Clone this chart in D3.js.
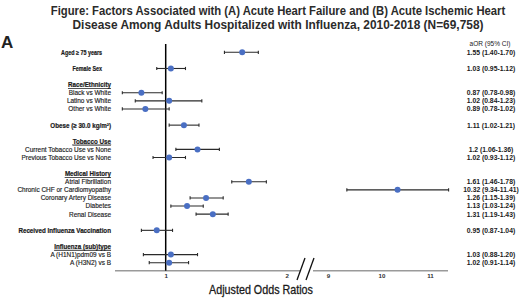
<!DOCTYPE html>
<html><head><meta charset="utf-8">
<script src="https://cdn.jsdelivr.net/npm/d3@7"></script>
<style>body{margin:0;background:#fff} svg{display:block} text{font-family:"Liberation Sans",Arial,Helvetica,sans-serif}</style>
</head><body>
<svg id="chart" width="520" height="298"></svg>
<script>
const titleLines = ["Figure: Factors Associated with (A) Acute Heart Failure and (B) Acute Ischemic Heart",
                    "Disease Among Adults Hospitalized with Influenza, 2010-2018 (N=69,758)"];
const panelLabel = "A";
const axisTitle = "Adjusted Odds Ratios";
const ciHeader = "aOR (95% CI)";
// display order of rows: "" = empty slot, "#" prefix = group header
const rowOrder = ["Aged ≥ 75 years","","Female Sex","","#Race/Ethnicity","Black vs White","Latino vs White","Other vs White","",
  "Obese (≥ 30.0 kg/m²)","","#Tobacco Use","Current Tobacco Use vs None","Previous Tobacco Use vs None","",
  "#Medical History","Atrial Fibrillation","Chronic CHF or Cardiomyopathy","Coronary Artery Disease","Diabetes","Renal Disease","",
  "Received Influenza Vaccination","","#Influenza (sub)type","A (H1N1)pdm09 vs B","A (H3N2) vs B"];
const categories = ["Aged ≥ 75 years","Female Sex","Black vs White","Latino vs White","Other vs White","Obese (≥ 30.0 kg/m²)",
  "Current Tobacco Use vs None","Previous Tobacco Use vs None","Atrial Fibrillation","Chronic CHF or Cardiomyopathy",
  "Coronary Artery Disease","Diabetes","Renal Disease","Received Influenza Vaccination","A (H1N1)pdm09 vs B","A (H3N2) vs B"];
const aOR    = [1.55, 1.03, 0.87, 1.02, 0.89, 1.11, 1.2,  1.02, 1.61, 10.32, 1.26, 1.13, 1.31, 0.95, 1.03, 1.02];
const ciLow  = [1.40, 0.95, 0.78, 0.84, 0.78, 1.02, 1.06, 0.93, 1.46, 9.34,  1.15, 1.03, 1.19, 0.87, 0.88, 0.91];
const ciHigh = [1.70, 1.12, 0.98, 1.23, 1.02, 1.21, 1.36, 1.12, 1.78, 11.41, 1.39, 1.24, 1.43, 1.04, 1.20, 1.14];
const mainItems = ["Aged ≥ 75 years","Female Sex","Obese (≥ 30.0 kg/m²)","Received Influenza Vaccination"];
const smallItems = ["Aged ≥ 75 years","Female Sex"];
const leftTicks = [1, 2];
const rightTicks = [9, 10, 11];

const svg = d3.select("#chart");
const y = d3.scaleLinear().domain([0, 26]).range([52.3, 262.7]);
const xL = d3.scaleLog().domain([1, 2]).range([165.7, 286.7]);
const xR = d3.scaleLog().domain([9, 11]).range([328, 430]);
const xOf = v => v >= 5 ? xR(v) : xL(v);
const axisY = 270.7;

// horizontally condense a text element to a target width around its anchor
function squeeze(t, tx, ty, targetW) {
  const w = t.node().getComputedTextLength();
  const k = targetW / w;
  t.attr("x", 0).attr("y", 0).attr("transform", `translate(${tx},${ty}) scale(${k},1)`);
}

// title
titleLines.forEach((line, i) => {
  const t = svg.append("text").attr("text-anchor","middle").attr("font-size", 12.8)
    .attr("font-weight","bold").attr("fill","#2b2b2b").text(line);
  squeeze(t, 278, 15 + i * 13.5, i === 0 ? 455 : 411);
});

svg.append("text").attr("x", 1).attr("y", 48).attr("font-size", 17).attr("font-weight","bold")
  .attr("fill","#222").text(panelLabel);

// row labels
const rows = rowOrder.map((r, i) => ({r, i})).filter(d => d.r !== "");
rows.forEach(({r, i}) => {
  const isHeader = r.startsWith("#");
  const label = isHeader ? r.slice(1) : r;
  const main = mainItems.includes(label);
  const small = smallItems.includes(label);
  const strong = isHeader || main;
  const t = svg.append("text")
    .attr("dy", "0.35em")
    .attr("text-anchor", "end")
    .attr("font-size", small ? 6.4 : 6.8)
    .attr("font-weight", strong ? "bold" : "normal")
    .attr("fill", "#1a1a1a")
    .attr("stroke", "#1a1a1a").attr("stroke-width", strong ? 0.2 : 0.15)
    .attr("text-decoration", isHeader ? "underline" : null)
    .text(label);
  const w = t.node().getComputedTextLength();
  squeeze(t, small ? 102 : 111, y(i), w * (strong ? (small ? 0.84 : 0.92) : 0.95));
});

// value column
svg.append("text").attr("x", 490).attr("y", y(-1)).attr("dy","0.35em").attr("text-anchor","middle")
  .attr("font-size", 6.5).attr("fill","#1a1a1a").text(ciHeader);
const data = categories.map((c, k) => ({c, or: aOR[k], lo: ciLow[k], hi: ciHigh[k], slot: rowOrder.indexOf(c)}));
svg.selectAll("text.val").data(data).join("text").attr("class","val")
  .attr("x", 491).attr("y", d => y(d.slot)).attr("dy","0.35em").attr("text-anchor","middle")
  .attr("font-size", 6.8).attr("font-weight","bold").attr("fill","#1a1a1a")
  .text(d => `${d.or} (${d.lo.toFixed(2)}-${d.hi.toFixed(2)})`);

// axis line with break
const axisSegs = [[115, 300], [313, 448]];
svg.selectAll("line.ax").data(axisSegs).join("line").attr("class","ax")
  .attr("x1", d => d[0]).attr("x2", d => d[1]).attr("y1", axisY).attr("y2", axisY)
  .attr("stroke","#9a9a9a").attr("stroke-width",1.5);
svg.selectAll("line.brk").data([0, 9]).join("line").attr("class","brk")
  .attr("x1", d => 297 + d).attr("y1", 280).attr("x2", d => 305 + d).attr("y2", 258)
  .attr("stroke","#111").attr("stroke-width",1.3);

const gL = svg.append("g").attr("transform", `translate(0,${axisY})`)
  .call(d3.axisBottom(xL).tickValues(leftTicks).tickSize(0).tickPadding(3).tickFormat(d3.format("d")));
const gR = svg.append("g").attr("transform", `translate(0,${axisY})`)
  .call(d3.axisBottom(xR).tickValues(rightTicks).tickSize(0).tickPadding(3).tickFormat(d3.format("d")));
[gL, gR].forEach(g => {
  g.select(".domain").remove();
  g.selectAll("text").attr("font-size", 6.2).attr("font-weight","bold").attr("fill","#333")
    .attr("font-family", '"Liberation Sans",Arial,sans-serif');
});

const at = svg.append("text").attr("text-anchor","middle")
  .attr("font-size", 12.5).attr("fill","#1a1a1a").attr("stroke","#1a1a1a").attr("stroke-width",0.3)
  .text(axisTitle);
squeeze(at, 261, 294, 104);

// reference line at 1
svg.append("line").attr("x1", xL(1)).attr("x2", xL(1)).attr("y1", 44).attr("y2", axisY)
  .attr("stroke","#000").attr("stroke-width",1.5);

// error bars
const eb = svg.selectAll("g.eb").data(data).join("g").attr("class","eb");
eb.append("line").attr("x1", d => xOf(d.lo)).attr("x2", d => xOf(d.hi))
  .attr("y1", d => y(d.slot)).attr("y2", d => y(d.slot)).attr("stroke","#2a2a2a").attr("stroke-width",1.1);
["lo","hi"].forEach(key => {
  eb.append("line").attr("x1", d => xOf(d[key])).attr("x2", d => xOf(d[key]))
    .attr("y1", d => y(d.slot) - 1.6).attr("y2", d => y(d.slot) + 1.6)
    .attr("stroke","#2a2a2a").attr("stroke-width",1.1);
});
eb.append("circle").attr("cx", d => xOf(d.or)).attr("cy", d => y(d.slot)).attr("r", 3)
  .attr("fill","#4a6fc3");
</script>
</body></html>
